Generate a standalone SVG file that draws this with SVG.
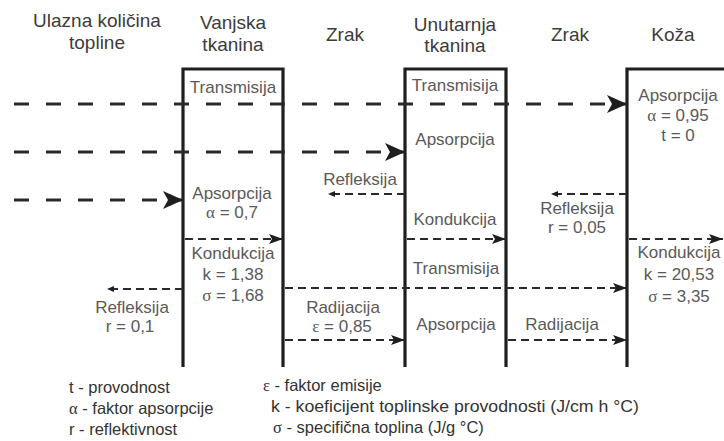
<svg xmlns="http://www.w3.org/2000/svg" width="724" height="441" viewBox="0 0 724 441">
<style>
  text { font-family: "Liberation Sans", Arial, sans-serif; }
  .hd { font-size: 19px; fill: #3c3c3c; text-anchor: middle; }
  .lb { font-size: 17px; fill: #5a5a5a; text-anchor: middle; }
  .lg { font-size: 16.5px; fill: #333; }
  .gr { font-family: "Liberation Serif", "Times New Roman", serif; }
  .wall { fill: none; stroke: #1e1e1e; stroke-width: 3.2; }
  .thick { fill: none; stroke: #2a2a2a; stroke-width: 3; stroke-dasharray: 15 17; }
  .thin { fill: none; stroke: #2a2a2a; stroke-width: 2; stroke-dasharray: 8 5; }
</style>
<defs>
  <marker id="big" markerUnits="userSpaceOnUse" markerWidth="22" markerHeight="20" refX="20" refY="9" orient="auto" viewBox="0 0 22 20">
    <path d="M0,0 L20,9 L0,18 L5,9 Z" fill="#1e1e1e"/>
  </marker>
  <marker id="mid" markerUnits="userSpaceOnUse" markerWidth="15" markerHeight="11" refX="14" refY="5" orient="auto" viewBox="0 0 15 11">
    <path d="M0,0 L14,5 L0,10 L3,5 Z" fill="#1e1e1e"/>
  </marker>
  <marker id="sm" markerUnits="userSpaceOnUse" markerWidth="8" markerHeight="7" refX="7" refY="3" orient="auto" viewBox="0 0 8 7">
    <path d="M0,0 L7,3 L0,6 Z" fill="#1e1e1e"/>
  </marker>
</defs>
<rect width="724" height="441" fill="#fff"/>

<g id="headers">
  <text class="hd" x="97" y="27">Ulazna količina</text>
  <text class="hd" x="97" y="49">topline</text>
  <text class="hd" x="345" y="41">Zrak</text>
  <text class="hd" x="570" y="41">Zrak</text>
</g>

<g id="outer-fabric">
  <path class="wall" d="M183,367 V69 H283 V367"/>
  <text class="hd" x="233" y="29">Vanjska</text>
  <text class="hd" x="233" y="51">tkanina</text>
  <text class="lb" x="233" y="93">Transmisija</text>
  <text class="lb" x="232" y="199">Apsorpcija</text>
  <text class="lb" x="232" y="218"><tspan class="gr">α</tspan> = 0,7</text>
  <text class="lb" x="233" y="259">Kondukcija</text>
  <text class="lb" x="233" y="280">k = 1,38</text>
  <text class="lb" x="233" y="301"><tspan class="gr">σ</tspan> = 1,68</text>
</g>

<g id="inner-fabric">
  <path class="wall" d="M405,367 V69 H506 V367"/>
  <text class="hd" x="455" y="31">Unutarnja</text>
  <text class="hd" x="455" y="52">tkanina</text>
  <text class="lb" x="455" y="91">Transmisija</text>
  <text class="lb" x="455" y="145">Apsorpcija</text>
  <text class="lb" x="455" y="225">Kondukcija</text>
  <text class="lb" x="456" y="274">Transmisija</text>
  <text class="lb" x="456" y="330">Apsorpcija</text>
</g>

<g id="skin">
  <path class="wall" d="M627,367 V69 H724"/>
  <text class="hd" x="673" y="41">Koža</text>
  <text class="lb" x="678" y="101">Apsorpcija</text>
  <text class="lb" x="678" y="121"><tspan class="gr">α</tspan> = 0,95</text>
  <text class="lb" x="678" y="141">t = 0</text>
  <text class="lb" x="679" y="258">Kondukcija</text>
  <text class="lb" x="679" y="280">k = 20,53</text>
  <text class="lb" x="679" y="302"><tspan class="gr">σ</tspan> = 3,35</text>
</g>

<g id="air-labels">
  <text class="lb" x="132" y="313">Refleksija</text>
  <text class="lb" x="130" y="332">r = 0,1</text>
  <text class="lb" x="343" y="313">Radijacija</text>
  <text class="lb" x="342" y="332"><tspan class="gr">ε</tspan> = 0,85</text>
  <text class="lb" x="360" y="185">Refleksija</text>
  <text class="lb" x="577" y="214">Refleksija</text>
  <text class="lb" x="577" y="233">r = 0,05</text>
  <text class="lb" x="562" y="330">Radijacija</text>
</g>

<g id="connectors">
  <path class="thick" d="M14,104 H627" marker-end="url(#big)"/>
  <path class="thick" d="M14,152 H405" marker-end="url(#big)"/>
  <path class="thick" d="M14,200 H183" marker-end="url(#big)"/>
  <path class="thin" d="M185,239 H283" marker-end="url(#mid)"/>
  <path class="thin" d="M183,289 H107" marker-end="url(#sm)"/>
  <path class="thin" d="M285,288 H627" marker-end="url(#mid)"/>
  <path class="thin" d="M285,340 H405" marker-end="url(#mid)"/>
  <path class="thin" d="M508,340 H627" marker-end="url(#mid)"/>
  <path class="thin" d="M405,194 H328" marker-end="url(#sm)"/>
  <path class="thin" d="M407,239 H506" marker-end="url(#mid)"/>
  <path class="thin" d="M627,194 H551" marker-end="url(#sm)"/>
  <path class="thin" d="M629,239 H723" marker-end="url(#mid)"/>
</g>

<g id="legend">
  <text class="lg" x="69" y="393">t - provodnost</text>
  <text class="lg" x="69" y="414"><tspan class="gr">α</tspan> - faktor apsorpcije</text>
  <text class="lg" x="69" y="435">r - reflektivnost</text>
  <text class="lg" x="263" y="391"><tspan class="gr">ε</tspan> - faktor emisije</text>
  <text class="lg" x="271" y="412" textLength="368" lengthAdjust="spacingAndGlyphs">k - koeficijent toplinske provodnosti (J/cm h °C)</text>
  <text class="lg" x="273" y="433"><tspan class="gr">σ</tspan> - specifična toplina (J/g °C)</text>
</g>
</svg>
